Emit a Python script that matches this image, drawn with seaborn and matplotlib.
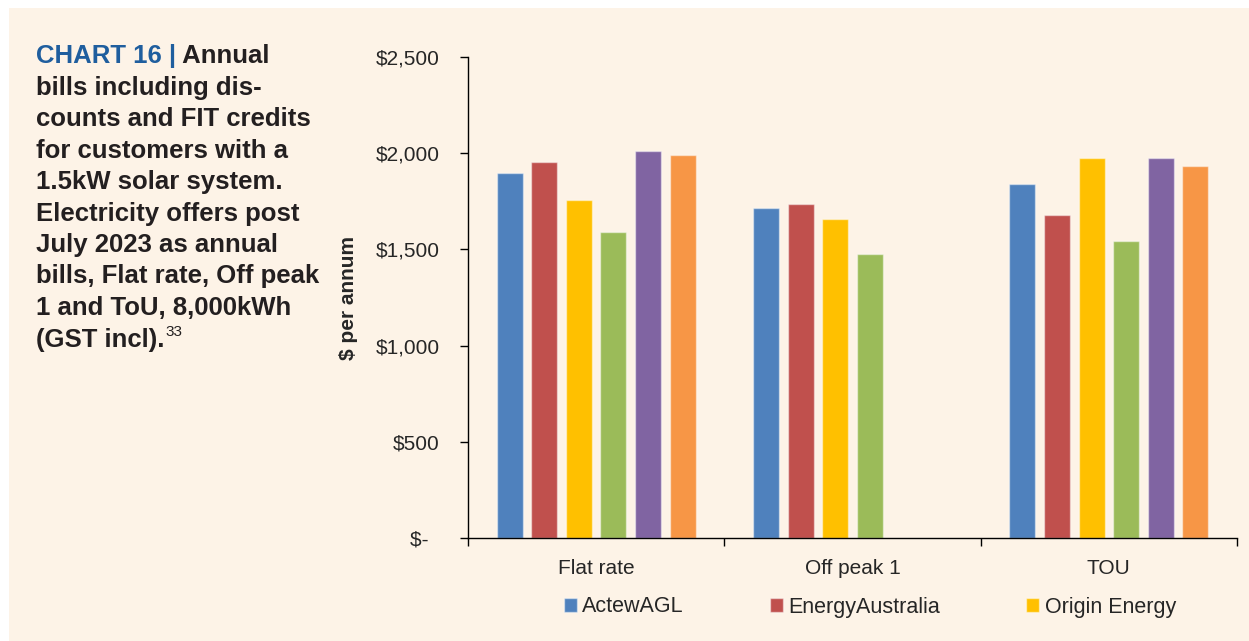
import numpy as np
import pandas as pd
import seaborn as sns
import matplotlib.pyplot as plt
from matplotlib.patches import Rectangle

# data
tariffs = ["Flat rate", "Off peak 1", "TOU"]
retailers = ["ActewAGL", "EnergyAustralia", "Origin Energy", "Retailer 4", "Retailer 5", "Retailer 6"]
flat_rate = [1895, 1952, 1758, 1589, 2011, 1989]
off_peak_1 = [1713, 1736, 1656, 1474, np.nan, np.nan]
tou = [1840, 1679, 1977, 1542, 1977, 1932]
colours = ["#4F81BD", "#C0504D", "#FFC000", "#9BBB59", "#8064A2", "#F79646"]
ytick_vals = [0, 500, 1000, 1500, 2000, 2500]
ytick_labels = ["$-  ", "$500", "$1,000", "$1,500", "$2,000", "$2,500"]

rows = []
for t, vals in zip(tariffs, [flat_rate, off_peak_1, tou]):
    for r, v in zip(retailers, vals):
        if not np.isnan(v):
            rows.append({"Tariff": t, "Retailer": r, "Bill": v})
df = pd.DataFrame(rows)

sns.set_theme(style="ticks")
plt.rcParams["font.family"] = ["Liberation Sans", "DejaVu Sans"]

W, H = 1249, 641
bg = "#FDF3E7"
fig = plt.figure(figsize=(W / 100, H / 100), dpi=100, facecolor="white")
fig.patches.append(Rectangle((9 / W, 0), 1, 1 - 8 / H, transform=fig.transFigure,
                             facecolor=bg, edgecolor="none", zorder=-10))

ax = fig.add_axes([468 / W, 1 - 538 / H, (1237 - 468) / W, (538 - 57) / H])
ax.set_facecolor(bg)

sns.barplot(data=df, x="Tariff", y="Bill", hue="Retailer", order=tariffs,
            hue_order=retailers, palette=colours, saturation=1, width=0.81, gap=0.25,
            edgecolor=(1, 1, 1, 0.45), linewidth=1, errorbar=None, ax=ax)

ax.set_xlim(-0.5, 2.5)
ax.set_ylim(0, 2500)
ax.set_yticks(ytick_vals)
ax.set_yticklabels(ytick_labels)
ax.tick_params(axis="y", length=6, width=1, pad=14.5, labelsize=15, color="black")
ax.tick_params(axis="x", which="major", length=0, pad=15, labelsize=15)
ax.set_xticks([-0.5, 0.5, 1.5, 2.5], minor=True)
ax.tick_params(axis="x", which="minor", length=6, width=1, color="black")
for side in ["top", "right"]:
    ax.spines[side].set_visible(False)
for side in ["left", "bottom"]:
    ax.spines[side].set_color("black")
    ax.spines[side].set_linewidth(1)

ax.set_xlabel("")
ax.set_ylabel("$ per annum", fontsize=15, fontweight="bold")
ax.yaxis.set_label_coords(-0.143, 0.5)

handles, labels = ax.get_legend_handles_labels()
ax.legend(handles[:3], labels[:3], loc="center", bbox_to_anchor=(0.5 * (500 + 1240) / W, 1 - 607 / H),
          bbox_transform=fig.transFigure, ncol=3, frameon=False, fontsize=15.5,
          handlelength=0.6, handleheight=0.6, handletextpad=0.25, columnspacing=4.0)

# caption block on the left
title_lines = ["bills including dis-", "counts and FIT credits", "for customers with a",
               "1.5kW solar system.", "Electricity offers post", "July 2023 as annual",
               "bills, Flat rate, Off peak", "1 and ToU, 8,000kWh"]
x0 = 36 / W
base = 63
step = 31.5
kw = dict(fontsize=18.5, fontweight="bold", va="baseline", ha="left")
renderer = fig.canvas.get_renderer()
t1 = fig.text(x0, 1 - base / H, "CHART 16 |", color="#1F5E9E", **kw)
bb = t1.get_window_extent(renderer)
fig.text(bb.x1 / W, 1 - base / H, " Annual", color="#231F20", **kw)
for i, line in enumerate(title_lines):
    fig.text(x0, 1 - (base + step * (i + 1)) / H, line, color="#231F20", **kw)
last = fig.text(x0, 1 - (base + step * 9) / H, "(GST incl).", color="#231F20", **kw)
bb = last.get_window_extent(renderer)
fig.text(bb.x1 / W + 0.001, 1 - (base + step * 9 - 10) / H, "33", color="#231F20",
         fontsize=11, va="baseline", ha="left")

fig.savefig("out.png", dpi=100, facecolor=fig.get_facecolor())
